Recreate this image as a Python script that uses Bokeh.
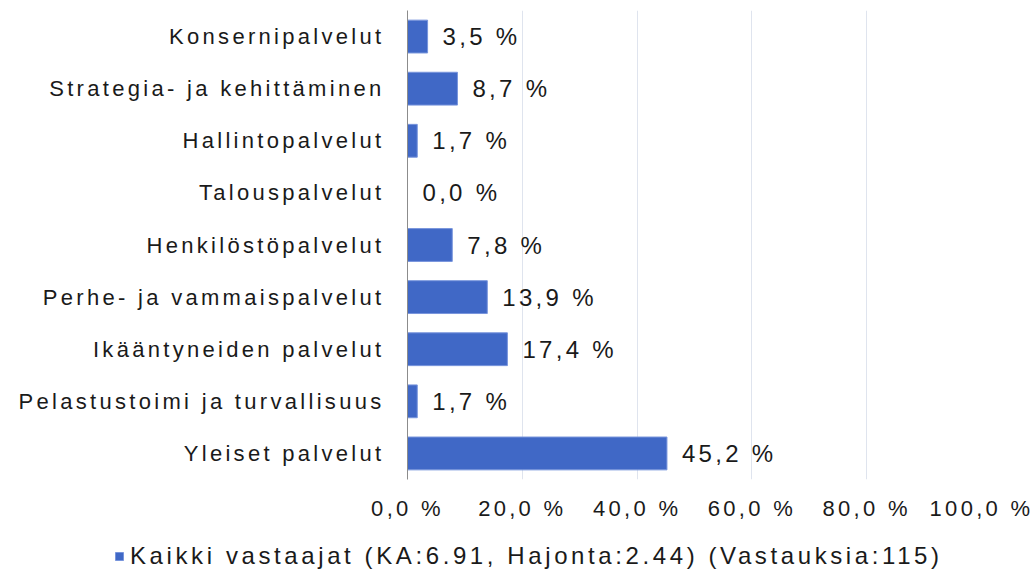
from bokeh.plotting import figure
from bokeh.layouts import column
from bokeh.models import (ColumnDataSource, FactorRange, Range1d, FixedTicker,
                          CustomJSTickFormatter, Legend, LegendItem)
from bokeh.core.properties import value
from bokeh.embed import file_html
from bokeh.resources import INLINE

categories = ["Konsernipalvelut", "Strategia- ja kehittäminen", "Hallintopalvelut",
              "Talouspalvelut", "Henkilöstöpalvelut", "Perhe- ja vammaispalvelut",
              "Ikääntyneiden palvelut", "Pelastustoimi ja turvallisuus", "Yleiset palvelut"]
values = [3.5, 8.7, 1.7, 0.0, 7.8, 13.9, 17.4, 1.7, 45.2]
x_ticks = [0, 20, 40, 60, 80, 100]
series_name = "Kaikki vastaajat (KA:6.91, Hajonta:2.44) (Vastauksia:115)"

labels = [f"{v:.1f}".replace(".", ",") + " %" for v in values]
src = ColumnDataSource(dict(cat=categories, val=values, lab=labels))

FONT = "Liberation Sans"
TXT = "#1a1a1a"
SPACING_EM = 0.15  # letter spacing of the reference's text, relative to font size
AXIS_FS = 22
BIG_FS = 24
BAR_FILL = "#4068c6"
BAR_LINE = "#7895dc"

p = figure(width=1033, height=536, output_backend="svg", toolbar_location=None,
           y_range=FactorRange(factors=list(reversed(categories))),
           x_range=Range1d(0, 100), frame_align=False,
           min_border_left=407, min_border_right=52, min_border_top=10, min_border_bottom=57)
p.styles = {"letter-spacing": f"{SPACING_EM * AXIS_FS:.2f}px"}
p.outline_line_color = None
p.background_fill_color = "white"

r = p.hbar(y="cat", right="val", left=0, height=0.63, source=src,
           fill_color=BAR_FILL, line_color=BAR_LINE, line_width=1)

p.text(x="val", y="cat", text="lab", source=src, x_offset=15,
       text_align="left", text_baseline="middle", text_font=value(FONT),
       text_font_size=f"{BIG_FS}px", text_color=TXT)

# x axis
p.xaxis.ticker = FixedTicker(ticks=x_ticks)
p.xaxis.formatter = CustomJSTickFormatter(code="return tick.toFixed(1).replace('.', ',') + ' %';")
p.xaxis.axis_line_color = None
p.xaxis.major_tick_line_color = None
p.xaxis.minor_tick_line_color = None
p.xaxis.major_label_standoff = 10
p.xaxis.major_label_text_font = FONT
p.xaxis.major_label_text_font_size = f"{AXIS_FS}px"
p.xaxis.major_label_text_color = TXT

# y axis
p.yaxis.axis_line_color = "#8c8c8c"
p.yaxis.axis_line_width = 1
p.yaxis.major_tick_line_color = None
p.yaxis.minor_tick_line_color = None
p.yaxis.major_label_standoff = 17
p.yaxis.major_label_text_font = FONT
p.yaxis.major_label_text_font_size = f"{AXIS_FS}px"
p.yaxis.major_label_text_color = TXT

p.xgrid.grid_line_color = "#dfe4ee"
p.xgrid.ticker = FixedTicker(ticks=x_ticks[1:])
p.ygrid.grid_line_color = None

# legend strip below the chart
pl = figure(width=1033, height=40, output_backend="svg", toolbar_location=None,
            x_axis_location=None, y_axis_location=None, frame_align=False,
            y_range=FactorRange(factors=list(reversed(categories))),
            x_range=Range1d(0, 100), min_border=0)
pl.styles = {"letter-spacing": f"{SPACING_EM * BIG_FS:.2f}px"}
pl.outline_line_color = None
pl.xgrid.visible = False
pl.ygrid.visible = False
rl = pl.hbar(y="cat", right="val", left=0, height=0.63, source=src,
             fill_color=BAR_FILL, line_color=BAR_LINE, line_width=1, visible=False)

legend = Legend(items=[LegendItem(label=series_name, renderers=[rl])],
                location=(114, 6), orientation="horizontal",
                glyph_width=10, glyph_height=10, label_standoff=6,
                padding=0, margin=0, spacing=0, inactive_fill_alpha=0,
                label_text_font=FONT, label_text_font_size=f"{BIG_FS}px", label_text_color=TXT,
                background_fill_alpha=0, border_line_alpha=0)
pl.add_layout(legend, "center")

layout = column(p, pl, spacing=0)

js = """<script>
(function(){
  function patch(C){
    if (!C) return;
    var orig = C.prototype.measureText;
    C.prototype.measureText = function(t){
      try {
        var m = /([0-9.]+)px/.exec(this.font);
        var fs = m ? parseFloat(m[1]) : 16;
        this.letterSpacing = (%f * fs).toFixed(2) + "px";
      } catch(e) {}
      return orig.call(this, t);
    };
  }
  patch(window.CanvasRenderingContext2D);
  patch(window.OffscreenCanvasRenderingContext2D);
})();
</script>""" % SPACING_EM

html = file_html(layout, INLINE)
html = html.replace("<head>", "<head>\n" + js, 1)
open("out.html", "w").write(html)
